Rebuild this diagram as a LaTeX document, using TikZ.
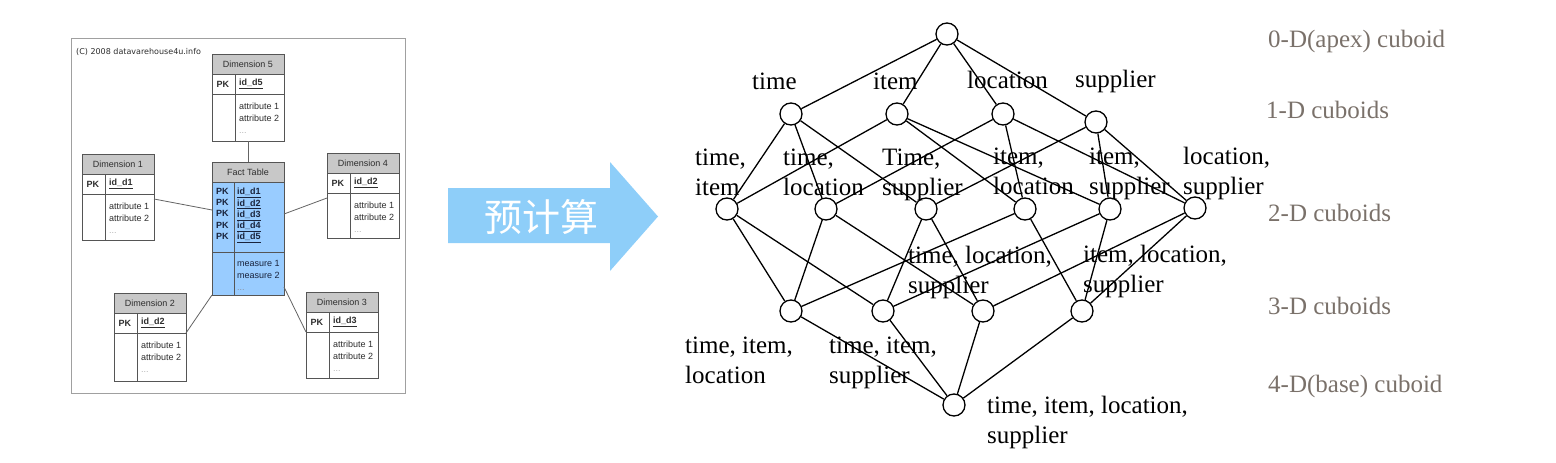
\documentclass[tikz,border=0pt]{standalone}
\usepackage{fontspec}
\setmainfont{Liberation Serif}
\newfontfamily\sansf{Liberation Sans}
\newfontfamily\dejaf{DejaVu Sans}
\newfontfamily\cjkf{Noto Sans CJK SC}
\definecolor{framegray}{RGB}{160,160,160}
\definecolor{tabline}{RGB}{85,85,85}
\definecolor{headgray}{RGB}{200,200,200}
\definecolor{tabtext}{RGB}{45,45,45}
\definecolor{factblue}{RGB}{153,204,255}
\definecolor{facttext}{RGB}{25,35,60}
\definecolor{linkgray}{RGB}{100,100,100}
\definecolor{arrowblue}{RGB}{142,206,249}
\definecolor{dimgray}{RGB}{122,113,106}
\tikzset{
  frame/.style={draw=framegray, line width=1.2pt, fill=white},
  thead/.style={draw=tabline, line width=0.8pt, fill=headgray, minimum width=72pt, minimum height=20pt, inner sep=0pt, outer sep=0pt, font=\sansf\fontsize{9}{11}\selectfont, text=tabtext},
  tkey/.style={draw=tabline, line width=0.8pt, fill=white, minimum width=72pt, minimum height=20pt, inner sep=0pt, outer sep=0pt},
  tbody/.style={draw=tabline, line width=0.8pt, fill=white, minimum width=72pt, inner sep=0pt, outer sep=0pt},
  tline/.style={draw=tabline, line width=0.8pt},
  ttxt/.style={inner sep=0pt, font=\sansf\fontsize{9}{12}\selectfont, text=tabtext, align=left},
  tbold/.style={inner sep=0pt, font=\sansf\bfseries\fontsize{9}{12}\selectfont, text=tabtext, align=left},
  link/.style={draw=linkgray, line width=0.8pt},
  cub/.style={circle, draw, line width=1.3pt, minimum size=22pt, inner sep=0pt, fill=white},
  latline/.style={draw, line width=1.3pt},
  lab/.style={inner sep=0pt, anchor=north west, align=left, font=\fontsize{25}{30}\selectfont},
  dimlab/.style={inner sep=0pt, anchor=base west, font=\fontsize{25}{30}\selectfont, text=dimgray},
}
% #1 name, #2 x, #3 y, #4 title, #5 key, #6 body height
\newcommand{\DTable}[6]{%
  \node[thead, anchor=north west] (#1h) at (#2,#3) {#4};
  \node[tkey, anchor=north west] (#1k) at (#1h.south west) {};
  \node[tbody, minimum height=#6, anchor=north west] (#1b) at (#1k.south west) {};
  \draw[tline] ([xshift=23pt]#1k.north west) -- ([xshift=23pt]#1b.south west);
  \node[tbold, anchor=west] (#1pk) at ([xshift=4.5pt]#1k.west) {PK};
  \node[tbold, anchor=west] (#1id) at ([xshift=27pt]#1k.west) {\underline{#5}};
  \node[ttxt, anchor=north west] (#1at) at ([xshift=27pt,yshift=-9pt]#1b.north west) {attribute 1\\attribute 2\\{\color{gray!60}...}};
}
\begin{document}
\begin{tikzpicture}[x=1pt,y=-1pt]
\useasboundingbox (0,0) rectangle (1556,463);
% ---------- star schema ----------
\node[frame, anchor=north west, minimum width=334.5pt, minimum height=355pt, inner sep=0pt] (fr) at (70.5,37.5) {};
\node[inner sep=0pt, anchor=west, font=\dejaf\fontsize{8}{10}\selectfont, text=tabtext] (copy) at (76,52) {(C) 2008 datavarehouse4u.info};
\DTable{dv}{212}{54}{Dimension 5}{id\_d5}{47pt}
\DTable{da}{82}{154}{Dimension 1}{id\_d1}{46pt}
\DTable{dd}{327}{153}{Dimension 4}{id\_d2}{45pt}
\DTable{db}{114}{293}{Dimension 2}{id\_d2}{48pt}
\DTable{dc}{306}{292}{Dimension 3}{id\_d3}{46pt}
% fact table
\node[thead, anchor=north west] (fh) at (212,162) {Fact Table};
\node[tbody, fill=factblue, minimum height=70pt, anchor=north west] (fk) at (fh.south west) {};
\node[tbody, fill=factblue, minimum height=43pt, anchor=north west] (fb) at (fk.south west) {};
\draw[tline] ([xshift=22pt]fk.north west) -- ([xshift=22pt]fb.south west);
\node[tbold, text=facttext, anchor=north west, font=\sansf\bfseries\fontsize{9}{11.3}\selectfont] (fpk) at ([xshift=4pt,yshift=-6pt]fk.north west) {PK\\PK\\PK\\PK\\PK};
\node[tbold, text=facttext, anchor=north west, font=\sansf\bfseries\fontsize{9}{11.3}\selectfont] (fid) at ([xshift=25pt,yshift=-6pt]fk.north west) {\underline{id\_d1}\\\underline{id\_d2}\\\underline{id\_d3}\\\underline{id\_d4}\\\underline{id\_d5}};
\node[ttxt, text=facttext, anchor=north west] (fms) at ([xshift=25pt,yshift=-8pt]fb.north west) {measure 1\\measure 2\\{\color{facttext!50}...}};
% links
\draw[link] (dvb.south) -- (fh.north);
\draw[link] ([yshift=-5pt]dab.north east) -- ([yshift=-28pt]fk.north west);
\draw[link] ([yshift=-32pt]fk.north east) -- ([yshift=-5pt]ddb.north west);
\draw[link] (fb.south west) -- (dbk.south east);
\draw[link] ([yshift=8pt]fb.south east) -- (dck.south west);
% ---------- arrow ----------
\fill[arrowblue] (448,188) -- (610,188) -- (610,162) -- (658,216.5) -- (610,271) -- (610,243) -- (448,243) -- cycle;
\node[inner sep=0pt, text=white, font=\cjkf\fontsize{38}{40}\selectfont] (pre) at (541,216.5) {预计算};
% ---------- lattice ----------
\node[cub] (n0) at (947,34) {};
\node[cub] (nt) at (791,114) {};
\node[cub] (ni) at (897,114) {};
\node[cub] (nl) at (1003,114) {};
\node[cub] (ns) at (1096,122) {};
\node[cub] (nti) at (727,209) {};
\node[cub] (ntl) at (826,209) {};
\node[cub] (nts) at (926,209) {};
\node[cub] (nil) at (1025,209) {};
\node[cub] (nis) at (1110,209) {};
\node[cub] (nls) at (1195,208) {};
\node[cub] (ntil) at (791,311) {};
\node[cub] (ntis) at (883,311) {};
\node[cub] (ntls) at (983,311) {};
\node[cub] (nils) at (1082,311) {};
\node[cub] (nb) at (954,405) {};
\foreach \a/\b in {n0/nt,n0/ni,n0/nl,n0/ns,
  nt/nti,nt/ntl,nt/nts, ni/nti,ni/nil,ni/nis, nl/ntl,nl/nil,nl/nls, ns/nts,ns/nis,ns/nls,
  nti/ntil,nti/ntis, ntl/ntil,ntl/ntls, nts/ntis,nts/ntls, nil/ntil,nil/nils, nis/ntis,nis/nils, nls/ntls,nls/nils,
  ntil/nb,ntis/nb,ntls/nb,nils/nb}
  \draw[latline] (\a) -- (\b);
% labels
\node[lab] (lt) at (752,68) {\strut time};
\node[lab] (li) at (873,68) {\strut item};
\node[lab] (ll) at (967,67) {\strut location};
\node[lab] (ls) at (1075,66) {\strut supplier};
\node[lab] (lti) at (695,144) {\strut time,\\item};
\node[lab] (ltl) at (783,144) {\strut time,\\location};
\node[lab] (lts) at (882,144) {\strut Time,\\supplier};
\node[lab] (lil) at (993,143) {\strut item,\\location};
\node[lab] (lis) at (1089,143) {\strut item,\\supplier};
\node[lab] (lls) at (1183,143) {\strut location,\\supplier};
\node[lab] (ltls) at (908,242) {\strut time, location,\\supplier};
\node[lab] (lils) at (1083,241) {\strut item, location,\\supplier};
\node[lab] (ltil) at (685,332) {\strut time, item,\\location};
\node[lab] (ltis) at (829,332) {\strut time, item,\\supplier};
\node[lab] (lb) at (987,392) {\strut time, item, location,\\supplier};
% level labels
\node[dimlab] (d0) at (1268,47) {0-D(apex) cuboid};
\node[dimlab] (d1) at (1266,118) {1-D cuboids};
\node[dimlab] (d2) at (1268,221) {2-D cuboids};
\node[dimlab] (d3) at (1268,314) {3-D cuboids};
\node[dimlab] (d4) at (1268,392) {4-D(base) cuboid};
\end{tikzpicture}
\end{document}
